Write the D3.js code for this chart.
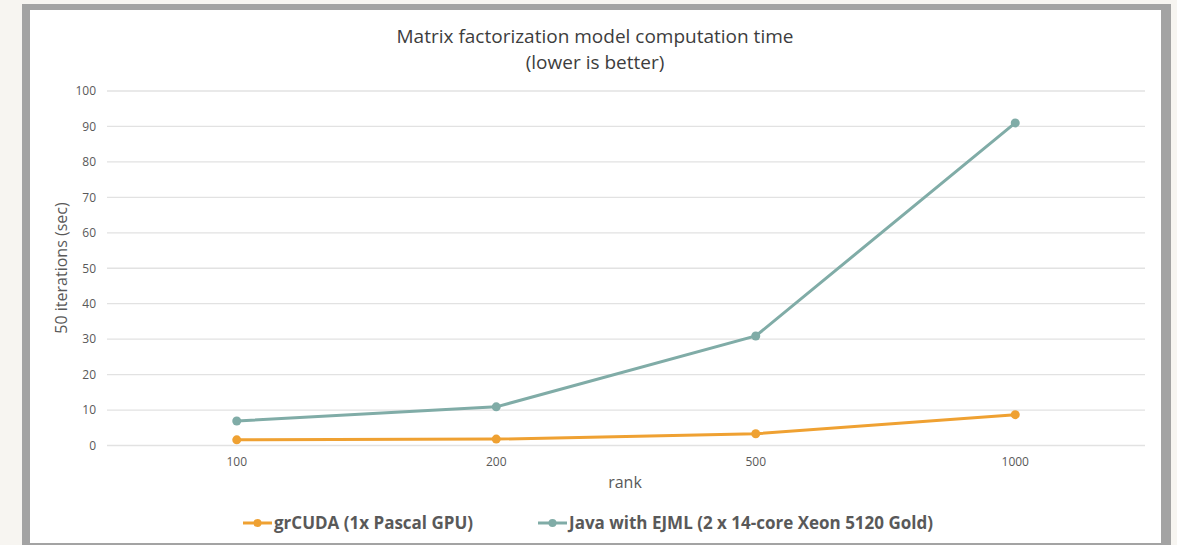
<!DOCTYPE html>
<html>
<head>
<meta charset="utf-8">
<script src="https://cdn.jsdelivr.net/npm/d3@7"></script>
<style>
  body { margin: 0; background: #f7f5f1; }
  svg { display: block; }
</style>
</head>
<body>
<div id="chart"></div>
<script>
// chart data
var ranks = ['100', '200', '500', '1000'];
var grcudaTimes = [1.6, 1.8, 3.3, 8.7];
var javaTimes = [6.9, 10.9, 30.9, 91];
var yTicks = [0, 10, 20, 30, 40, 50, 60, 70, 80, 90, 100];
var seriesNames = ['grCUDA (1x Pascal GPU)', 'Java with EJML (2 x 14-core Xeon 5120 Gold)'];
var seriesColors = ['#efa132', '#80aca7'];

var width = 1177, height = 545;
var textColor = '#595959';
var font = '"Open Sans", "Noto Sans", sans-serif';

var svg = d3.select('#chart').append('svg')
    .attr('width', width)
    .attr('height', height);

// frame: gray border + white panel
svg.append('rect')
    .attr('x', 22).attr('y', 4)
    .attr('width', 1149).attr('height', 560)
    .style('fill', '#a3a3a3');
svg.append('rect')
    .attr('x', 30).attr('y', 10)
    .attr('width', 1131).attr('height', 533)
    .style('fill', '#ffffff');

var x = d3.scaleBand().domain(ranks).range([107, 1145]);
var y = d3.scaleLinear().domain([0, 100]).range([445.5, 91]);

// grid lines
svg.append('g').selectAll('line').data(yTicks)
    .enter().append('line')
    .attr('x1', 107).attr('x2', 1145)
    .attr('y1', function (d) { return y(d); })
    .attr('y2', function (d) { return y(d); })
    .style('stroke', '#e2e2e2')
    .style('stroke-width', 1.3);

// y axis (labels only)
var yAxis = svg.append('g')
    .attr('transform', 'translate(107,0)')
    .call(d3.axisLeft(y).tickValues(yTicks).tickSize(0).tickPadding(11));
yAxis.select('.domain').remove();
yAxis.selectAll('text')
    .style('font-family', font).style('font-size', '12px').style('fill', textColor);

// x axis (labels only)
var xAxis = svg.append('g')
    .attr('transform', 'translate(0,' + y(0) + ')')
    .call(d3.axisBottom(x).tickSize(0).tickPadding(12));
xAxis.select('.domain').remove();
xAxis.selectAll('text')
    .style('font-family', font).style('font-size', '12px').style('fill', textColor);

// title
svg.append('text')
    .attr('x', 595).attr('y', 43)
    .attr('text-anchor', 'middle')
    .style('font-family', font).style('font-size', '19px').style('fill', '#3d3d3d')
    .text('Matrix factorization model computation time');
svg.append('text')
    .attr('x', 595).attr('y', 69)
    .attr('text-anchor', 'middle')
    .style('font-family', font).style('font-size', '19px').style('fill', '#3d3d3d')
    .text('(lower is better)');

// axis titles
svg.append('text')
    .attr('x', 625).attr('y', 488)
    .attr('text-anchor', 'middle')
    .style('font-family', font).style('font-size', '16px').style('fill', textColor)
    .text('rank');
svg.append('text')
    .attr('transform', 'translate(67,268) rotate(-90)')
    .attr('text-anchor', 'middle')
    .style('font-family', font).style('font-size', '16px').style('fill', textColor)
    .text('50 iterations (sec)');

// lines + points
var series = [grcudaTimes, javaTimes];
var line = d3.line()
    .x(function (d, i) { return x(ranks[i]) + x.bandwidth() / 2; })
    .y(function (d) { return y(d); });

series.forEach(function (vals, s) {
    svg.append('path')
        .datum(vals)
        .attr('d', line)
        .style('fill', 'none')
        .style('stroke', seriesColors[s])
        .style('stroke-width', 3);
    svg.append('g').selectAll('circle').data(vals)
        .enter().append('circle')
        .attr('cx', function (d, i) { return x(ranks[i]) + x.bandwidth() / 2; })
        .attr('cy', function (d) { return y(d); })
        .attr('r', 4.5)
        .style('fill', seriesColors[s]);
});

// legend
var legendX = [243, 538];
seriesNames.forEach(function (name, s) {
    var g = svg.append('g').attr('transform', 'translate(' + legendX[s] + ',523)');
    g.append('line')
        .attr('x1', 0).attr('x2', 29)
        .style('stroke', seriesColors[s]).style('stroke-width', 3);
    g.append('circle')
        .attr('cx', 14.5).attr('r', 4)
        .style('fill', seriesColors[s]);
    g.append('text')
        .attr('x', 31).attr('dy', '0.35em')
        .style('font-family', font).style('font-size', '17px')
        .style('font-weight', 'bold').style('fill', textColor)
        .text(name);
});
</script>
</body>
</html>
